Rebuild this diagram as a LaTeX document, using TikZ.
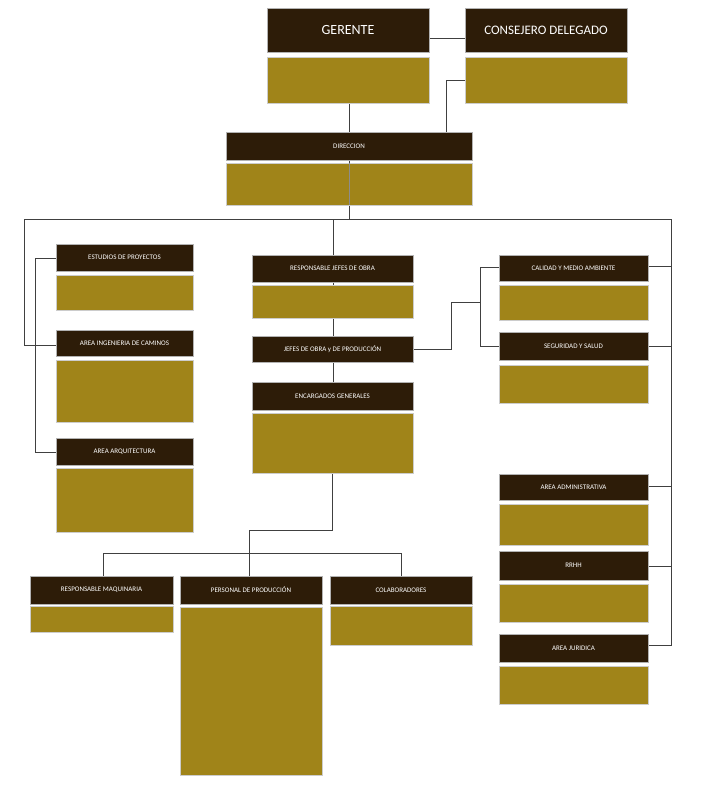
\documentclass[tikz,border=0pt]{standalone}
\usepackage{fontspec}
\setmainfont{Carlito}
\definecolor{dk}{HTML}{2D1C08}
\definecolor{gd}{HTML}{A08419}
\begin{document}
\begin{tikzpicture}[x=1pt,y=-1pt,
 hd/.style={fill=dk,draw=gray!60,line width=0.4pt,text=white,font=\fontsize{7}{8}\selectfont},
 bd/.style={fill=gd,draw=gray!40,line width=0.3pt},
 ln/.style={draw=black!75,line width=0.7pt}]
\useasboundingbox (0,0) rectangle (708,807);
\newcommand{\bx}[6]{% name, x1, y1, x2, y2, text
 \path[hd] (#2,#3) rectangle (#4,#5); \node[text=white,font=\fontsize{7}{8}\selectfont] (#1) at ({(#2+#4)/2},{(#3+#5)/2}) {#6};
 \coordinate (#1-n) at ({(#2+#4)/2},#3); \coordinate (#1-s) at ({(#2+#4)/2},#5);}
\newcommand{\gb}[5]{\path[bd] (#2,#3) rectangle (#4,#5); \coordinate (#1) at ({(#2+#4)/2},{(#3+#5)/2});}
% lines first
\coordinate (L) at (24,219); \coordinate (R) at (671,219);
\draw[ln] (L) -- (R);
\draw[ln] (349,103) -- (349,219);
\draw[ln] (429,38) -- (465,38);
\draw[ln] (465,80) -- (446,80) -- (446,132);
\draw[ln] (L) -- (24,345) -- (56,345);
\draw[ln] (56,258) -- (35,258) -- (35,452) -- (56,452);
\draw[ln] (333,219) -- (333,382);
\draw[ln] (413,349) -- (451,349) -- (451,302) -- (480,302);
\draw[ln] (499,267) -- (480,267) -- (480,346) -- (499,346);
\draw[ln] (R) -- (671,645) -- (648,645);
\foreach \y in {266,346,486,566} \draw[ln] (648,\y) -- (671,\y);
\draw[ln] (332,473) -- (332,530) -- (249,530) -- (249,576);
\draw[ln] (103,576) -- (103,553) -- (401,553) -- (401,576);
% boxes
\gb{g1}{267}{57}{429}{103}
\path[hd] (267,8) rectangle (429,52); \node[text=white,font=\fontsize{14}{16}\selectfont] (ger) at (348,30) {GERENTE};
\gb{g2}{465}{57}{627}{103}
\path[hd] (465,8) rectangle (627,52); \node[text=white,font=\fontsize{13}{15}\selectfont] (con) at (546,30) {CONSEJERO DELEGADO};
\bx{dir}{226}{132}{472}{160}{DIRECCION}
\path[bd] (226,163) rectangle (472,205);
\draw[ln,draw=black!45] (349,163) -- (349,205);
\bx{est}{56}{244}{193}{271}{ESTUDIOS DE PROYECTOS} \gb{g3}{56}{275}{193}{310}
\bx{ing}{56}{330}{193}{356}{AREA INGENIERIA DE CAMINOS} \gb{g4}{56}{360}{193}{422}
\bx{arq}{56}{438}{193}{465}{AREA ARQUITECTURA} \gb{g5}{56}{468}{193}{532}
\bx{rjo}{252}{255}{413}{282}{RESPONSABLE JEFES DE OBRA} \gb{g6}{252}{285}{413}{318}
\bx{jo}{252}{336}{413}{362}{JEFES DE OBRA y DE PRODUCCIÓN}
\bx{enc}{252}{382}{413}{410}{ENCARGADOS GENERALES} \gb{g7}{252}{413}{413}{473}
\bx{cal}{499}{255}{648}{281}{CALIDAD Y MEDIO AMBIENTE} \gb{g8}{499}{285}{648}{320}
\bx{seg}{499}{332}{648}{360}{SEGURIDAD Y SALUD} \gb{g9}{499}{365}{648}{403}
\bx{adm}{499}{474}{648}{500}{AREA ADMINISTRATIVA} \gb{g10}{499}{504}{648}{545}
\bx{rrhh}{499}{551}{648}{580}{RRHH} \gb{g11}{499}{584}{648}{622}
\bx{jur}{499}{634}{648}{662}{AREA JURIDICA} \gb{g12}{499}{666}{648}{704}
\bx{maq}{30}{576}{173}{604}{RESPONSABLE MAQUINARIA} \gb{g13}{30}{606}{173}{632}
\bx{per}{180}{576}{322}{604}{PERSONAL DE PRODUCCIÓN} \gb{g14}{180}{607}{322}{775}
\bx{col}{330}{576}{472}{604}{COLABORADORES} \gb{g15}{330}{606}{472}{645}
\end{tikzpicture}
\end{document}
